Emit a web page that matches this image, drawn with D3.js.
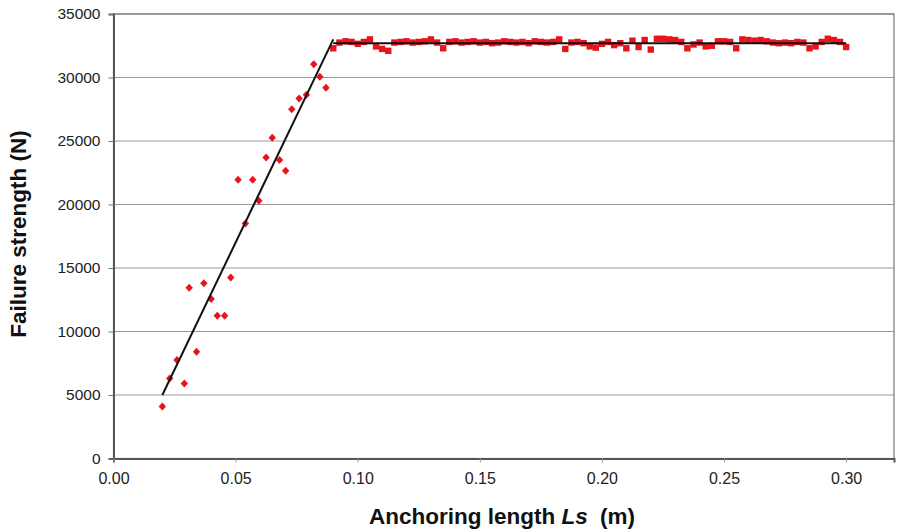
<!DOCTYPE html>
<html lang="en">
<head>
<meta charset="utf-8">
<title>failure strength</title>
<script src="https://d3js.org/d3.v7.min.js"></script>
<style>
  body { margin: 0; background: #fff; }
  text { font-family: "Liberation Sans", Arial, sans-serif; }
</style>
</head>
<body>
<svg width="897" height="529"></svg>
<script>
// rising part (diamonds)
var riseX = [0.020, 0.023, 0.026, 0.029, 0.031, 0.034, 0.037, 0.040, 0.0425, 0.0455,
             0.048, 0.051, 0.054, 0.057, 0.0595, 0.0625, 0.065, 0.068, 0.0705, 0.073,
             0.076, 0.079, 0.082, 0.0845, 0.087];
var riseY = [4100, 6300, 7750, 5900, 13450, 8400, 13800, 12550, 11250, 11250,
             14250, 21950, 18500, 21950, 20300, 23700, 25250, 23500, 22650, 27500,
             28350, 28650, 31050, 30050, 29200];

// plateau part (squares)
var flatX = [0.0900, 0.0925, 0.0950, 0.0975, 0.1000, 0.1025, 0.1050, 0.1075, 0.1100, 0.1125,
             0.1150, 0.1175, 0.1200, 0.1225, 0.1250, 0.1275, 0.1300, 0.1325, 0.1350, 0.1375,
             0.1400, 0.1425, 0.1450, 0.1475, 0.1500, 0.1525, 0.1550, 0.1575, 0.1600, 0.1625,
             0.1650, 0.1675, 0.1700, 0.1725, 0.1750, 0.1775, 0.1800, 0.1825, 0.1850, 0.1875,
             0.1900, 0.1925, 0.1950, 0.1975, 0.2000, 0.2025, 0.2050, 0.2075, 0.2100, 0.2125,
             0.2150, 0.2175, 0.2200, 0.2225, 0.2250, 0.2275, 0.2300, 0.2325, 0.2350, 0.2375,
             0.2400, 0.2425, 0.2450, 0.2475, 0.2500, 0.2525, 0.2550, 0.2575, 0.2600, 0.2625,
             0.2650, 0.2675, 0.2700, 0.2725, 0.2750, 0.2775, 0.2800, 0.2825, 0.2850, 0.2875,
             0.2900, 0.2925, 0.2950, 0.2975, 0.3000];
var flatY = [32300, 32750, 32850, 32800, 32650, 32800, 33000, 32450, 32250, 32100,
             32750, 32800, 32850, 32750, 32800, 32850, 33000, 32750, 32300, 32800,
             32850, 32750, 32800, 32850, 32750, 32800, 32700, 32750, 32850, 32800,
             32750, 32800, 32700, 32850, 32800, 32750, 32800, 33000, 32250, 32750,
             32800, 32700, 32450, 32350, 32650, 32800, 32550, 32700, 32300, 32900,
             32400, 32950, 32200, 33050, 33050, 33000, 32950, 32800, 32300, 32600,
             32750, 32450, 32500, 32850, 32850, 32800, 32300, 33000, 32950, 32900,
             32950, 32850, 32750, 32700, 32750, 32700, 32800, 32750, 32300, 32450,
             32800, 33050, 32950, 32800, 32400];

// fitted bilinear trend
var fitRise = [[0.020, 5000], [0.090, 33000]];
var fitFlat = [[0.090, 32700], [0.300, 32700]];

var xTicks = [0, 0.05, 0.10, 0.15, 0.20, 0.25, 0.30];
var yTicks = [0, 5000, 10000, 15000, 20000, 25000, 30000, 35000];

var svg = d3.select("svg");
var pL = 113.5, pR = 894, pT = 14, pB = 458.5;

var x = d3.scaleLinear().domain([0, 0.3196]).range([pL, pR]);
var y = d3.scaleLinear().domain([0, 35000]).range([pB, pT]);

// grid
svg.append("g")
  .selectAll("line")
  .data(yTicks.slice(1))
  .join("line")
  .attr("x1", pL).attr("x2", pR)
  .attr("y1", d => y(d)).attr("y2", d => y(d))
  .attr("stroke", "#9a9a9a").attr("stroke-width", 1);

// frame
svg.append("rect")
  .attr("x", pL).attr("y", pT)
  .attr("width", pR - pL).attr("height", pB - pT)
  .attr("fill", "none").attr("stroke", "#777").attr("stroke-width", 1.2);

// axes
var yAxis = d3.axisLeft(y).tickValues(yTicks).tickSize(5).tickPadding(8).tickFormat(d3.format("d"));
var gy = svg.append("g").attr("transform", `translate(${pL},0)`).call(yAxis);
gy.select(".domain").attr("stroke", "#555").attr("stroke-width", 2);
gy.selectAll(".tick line").attr("stroke", "#777");
gy.selectAll("text").attr("font-size", 15.5).attr("fill", "#222");

var xAxis = d3.axisBottom(x).tickValues(xTicks).tickSize(4).tickPadding(10).tickFormat(d3.format(".2f"));
var gx = svg.append("g").attr("transform", `translate(0,${pB})`).call(xAxis);
gx.select(".domain").attr("stroke", "#555").attr("stroke-width", 2);
gx.selectAll(".tick line").attr("stroke", "#999");
gx.selectAll("text").attr("font-size", 16).attr("fill", "#222");

// points
var rise = riseX.map((v, i) => ({ x: v, y: riseY[i] }));
var flat = flatX.map((v, i) => ({ x: v, y: flatY[i] }));

svg.append("g")
  .selectAll("path")
  .data(rise)
  .join("path")
  .attr("transform", d => `translate(${x(d.x)},${y(d.y)})`)
  .attr("d", "M0,-4L3.7,0L0,4L-3.7,0Z")
  .attr("fill", "#e8131b");

svg.append("g")
  .selectAll("rect")
  .data(flat)
  .join("rect")
  .attr("x", d => x(d.x) - 3.2)
  .attr("y", d => y(d.y) - 3.2)
  .attr("width", 6.4).attr("height", 6.4)
  .attr("fill", "#e8131b");

// trend lines
var line = d3.line().x(d => x(d[0])).y(d => y(d[1]));
[fitRise, fitFlat].forEach(function (seg) {
  svg.append("path")
    .attr("d", line(seg))
    .attr("fill", "none")
    .attr("stroke", "#111")
    .attr("stroke-width", 2);
});

// titles
svg.append("text")
  .attr("transform", "translate(26,234) rotate(-90)")
  .attr("text-anchor", "middle")
  .attr("font-size", 22.5).attr("font-weight", "bold").attr("fill", "#111")
  .text("Failure strength (N)");

var xt = svg.append("text")
  .attr("x", 502).attr("y", 524)
  .attr("text-anchor", "middle")
  .attr("font-size", 22.5).attr("font-weight", "bold").attr("fill", "#111");
xt.append("tspan").text("Anchoring length ");
xt.append("tspan").attr("font-style", "italic").text("Ls");
xt.append("tspan").attr("dx", 6).text(" (m)");
</script>
</body>
</html>
